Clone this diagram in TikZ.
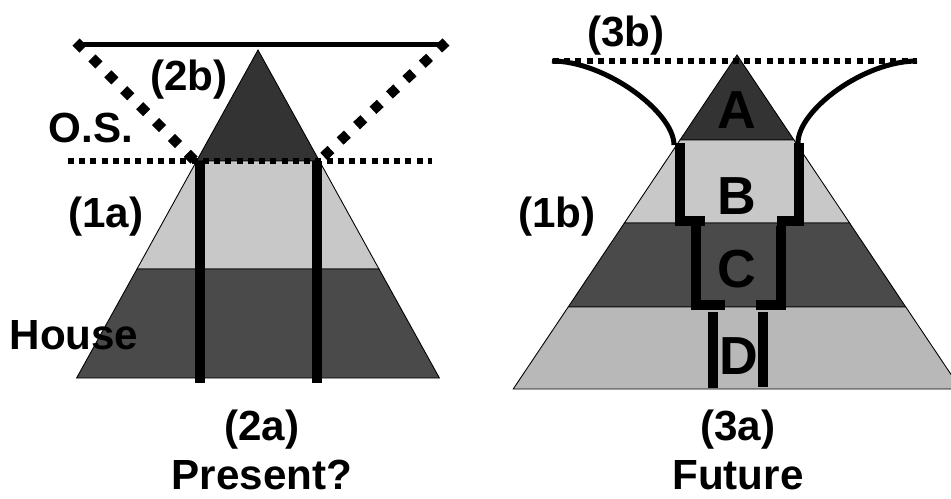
\documentclass[tikz,border=0pt]{standalone}
\usepackage{fontspec}
\setmainfont{Liberation Sans}
\usetikzlibrary{positioning}
\definecolor{peak}{HTML}{333333}
\definecolor{darkband}{HTML}{4A4A4A}
\definecolor{lightband}{HTML}{C8C8C8}
\definecolor{baseband}{HTML}{B8B8B8}

\begin{document}
\begin{tikzpicture}[
  x=0.02cm, y=-0.02cm,
  band/.style={draw=black, line width=0.5pt},
  wall/.style={line width=0.2cm, line cap=butt, miter limit=10},
  rim/.style={line width=0.1cm},
  dotrow/.style={line width=0.12cm, dash pattern=on 0.12cm off 0.105cm},
  diag/.style={line width=0.2cm, dash pattern=on 0.2cm off 0.25cm},
  lbl/.style={font=\bfseries\fontsize{24}{26}\selectfont, inner sep=0pt},
  tier/.style={font=\bfseries\fontsize{30.5}{32}\selectfont, inner sep=0pt},
]
\useasboundingbox (0,0) rectangle (951,498);
\clip (0,0) rectangle (951,498);

% present pyramid
\filldraw[band, fill=peak] (258,50) -- (319.4,161) -- (196.6,161) -- cycle;
\filldraw[band, fill=lightband] (196.6,161) -- (319.4,161) -- (379,269) -- (137,269) -- cycle;
\filldraw[band, fill=darkband] (137,269) -- (379,269) -- (439.4,378) -- (76.6,378) -- cycle;

\draw[rim] (78,44) -- (444,44);
\draw[diag] (76,42) -- (194,160);
\draw[diag] (446,42) -- (323,157);
\draw[dotrow] (68,161) -- (432,161);
\draw[wall] (200,161) -- (200,383);
\draw[wall] (317,161) -- (317,383);

\node[lbl] (twob) at (189,80) {(2b)};
\node[lbl] (os) at (91,128) {O.S.};
\node[lbl] (onea) at (106,217) {(1a)};
\node[lbl] (house) at (74,335) {House};
\node[lbl] (twoa) at (262,430) {(2a)};
\node[lbl, below=0.2cm of twoa] (present) {Present?};

% future pyramid
\filldraw[band, fill=peak] (737,55) -- (794,140) -- (680,140) -- cycle;
\filldraw[band, fill=lightband] (680,140) -- (794,140) -- (849.6,223) -- (624.4,223) -- cycle;
\filldraw[band, fill=darkband] (624.4,223) -- (849.6,223) -- (905.8,307) -- (568.2,307) -- cycle;
\filldraw[band, fill=baseband] (568.2,307) -- (905.8,307) -- (960.8,389) -- (513.2,389) -- cycle;

\draw[dotrow] (553,61) -- (917,61);
\draw[rim] (552,61) .. controls (605,61) and (674,112) .. (674,145);
\draw[rim] (917,61) .. controls (864,61) and (798,110) .. (798,143);

\draw[wall] (680,143) -- (680,221) -- (705,221);
\draw[wall] (696,226) -- (696,305) -- (725,305);
\draw[wall] (713,312) -- (713,388);
\draw[wall] (799,143) -- (799,221) -- (777,221);
\draw[wall] (781,226) -- (781,305) -- (756,305);
\draw[wall] (763,312) -- (763,387);

\node[tier] (tierA) at (737,110) {A};
\node[tier] (tierB) at (737,196) {B};
\node[tier] (tierC) at (737,269) {C};
\node[tier] (tierD) at (739,356) {D};

\node[lbl] (threeb) at (626,36) {(3b)};
\node[lbl] (oneb) at (557,217) {(1b)};
\node[lbl] (threea) at (738,430) {(3a)};
\node[lbl, below=0.2cm of threea] (future) {Future};
\end{tikzpicture}
\end{document}
